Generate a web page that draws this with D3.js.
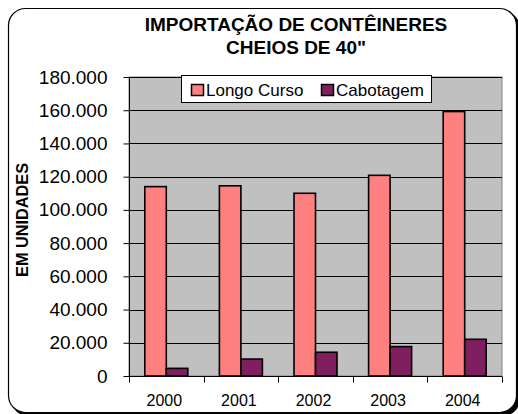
<!DOCTYPE html>
<html>
<head>
<meta charset="utf-8">
<script src="https://cdn.jsdelivr.net/npm/d3@7"></script>
<style>
  body { margin: 0; background: #fff; }
  svg text { font-family: "Liberation Sans", Arial, sans-serif; fill: #000; }
</style>
</head>
<body>
<div id="chart"></div>
<script>
/*
 * Chart data.
 */
var years = ["2000", "2001", "2002", "2003", "2004"]
  , longoCurso = [114000, 114500, 110000, 120800, 159200]
  , cabotagem = [4600, 10200, 14300, 17700, 22100]
  , seriesNames = ["Longo Curso", "Cabotagem"]
  , seriesColors = ["#ff8080", "#7f1f5f"]
  , yTicks = [0, 20000, 40000, 60000, 80000, 100000, 120000, 140000, 160000, 180000];

var width = 518
  , height = 414
  , plot = { left: 129, right: 502, top: 77, bottom: 376 };

var svg = d3.select('#chart').append('svg')
  .attr('width', width)
  .attr('height', height);

// brazilian number format: 180.000
var br = d3.formatLocale({ decimal: ",", thousands: ".", grouping: [3], currency: ["R$", ""] });
var fmt = br.format(",d");

/*
 * Chart frame, rounded with a shadow.
 */
svg.append('rect')
  .attr('x', 11).attr('y', 11)
  .attr('width', 509).attr('height', 405)
  .attr('rx', 17)
  .attr('fill', '#000');

svg.append('rect')
  .attr('x', 8.5).attr('y', 8.5)
  .attr('width', 508).attr('height', 404)
  .attr('rx', 17)
  .attr('fill', '#fff')
  .attr('stroke', '#000')
  .attr('stroke-width', 1.2);

/*
 * Scales
 */
var x = d3.scaleBand()
  .domain(years)
  .range([plot.left, plot.right]);

var xInner = d3.scaleBand()
  .domain(seriesNames)
  .range([0, x.bandwidth()])
  .paddingOuter(0.735)
  .paddingInner(0);

var y = d3.scaleLinear()
  .domain([0, 180000])
  .range([plot.bottom, plot.top]);

/*
 * Plot area and grid
 */
svg.append('rect')
  .attr('x', plot.left).attr('y', plot.top)
  .attr('width', plot.right - plot.left)
  .attr('height', plot.bottom - plot.top)
  .attr('fill', '#c0c0c0')
  .attr('stroke', '#808080')
  .attr('stroke-width', 1);

svg.append('g')
  .selectAll('line')
  .data(yTicks.slice(1))
  .enter().append('line')
  .attr('x1', plot.left).attr('x2', plot.right)
  .attr('y1', function(d) { return Math.round(y(d)) + 0.5; })
  .attr('y2', function(d) { return Math.round(y(d)) + 0.5; })
  .attr('stroke', '#000')
  .attr('stroke-width', 1);

/*
 * Bars
 */
var series = [longoCurso, cabotagem];

var groups = svg.append('g')
  .selectAll('g')
  .data(series)
  .enter().append('g')
  .attr('fill', function(d, i) { return seriesColors[i]; });

groups.selectAll('rect')
  .data(function(d, i) {
    return d.map(function(v, j) { return { year: years[j], value: v, name: seriesNames[i] }; });
  })
  .enter().append('rect')
  .attr('x', function(d) { return x(d.year) + xInner(d.name); })
  .attr('y', function(d) { return y(d.value); })
  .attr('width', xInner.bandwidth())
  .attr('height', function(d) { return y(0) - y(d.value); })
  .attr('stroke', '#000')
  .attr('stroke-width', 1.6);

/*
 * Axes
 */
var yAxis = svg.append('g')
  .attr('transform', 'translate(' + (plot.left + 0.5) + ',0)')
  .call(d3.axisLeft(y).tickValues(yTicks).tickFormat(fmt).tickSize(6).tickPadding(16));

yAxis.select('.domain').attr('stroke', '#000').attr('d', 'M0,' + plot.top + 'V' + plot.bottom);
yAxis.selectAll('text').style('font-size', '19px').attr('fill', '#000');

var xAxis = svg.append('g')
  .attr('transform', 'translate(0,' + (plot.bottom + 0.5) + ')');

xAxis.append('line')
  .attr('x1', plot.left).attr('x2', plot.right)
  .attr('stroke', '#000');

xAxis.selectAll('line.tick')
  .data(years.concat(['end']))
  .enter().append('line')
  .attr('class', 'tick')
  .attr('x1', function(d, i) { return Math.round(plot.left + i * x.step()) + 0.5; })
  .attr('x2', function(d, i) { return Math.round(plot.left + i * x.step()) + 0.5; })
  .attr('y1', 0).attr('y2', 6)
  .attr('stroke', '#000');

xAxis.selectAll('text')
  .data(years)
  .enter().append('text')
  .attr('x', function(d) { return x(d) + x.bandwidth() / 2 - 2; })
  .attr('y', 29)
  .attr('text-anchor', 'middle')
  .style('font-size', '16px')
  .text(function(d) { return d; });

// y axis title
svg.append('text')
  .attr('transform', 'translate(28,220) rotate(-90)')
  .attr('text-anchor', 'middle')
  .style('font-size', '16.3px')
  .style('font-weight', 'bold')
  .text('EM UNIDADES');

/*
 * Title
 */
var title = svg.append('text')
  .attr('text-anchor', 'middle')
  .style('font-size', '19px')
  .style('font-weight', 'bold');

title.append('tspan').attr('x', 296).attr('y', 31).text('IMPORTAÇÃO DE CONTÊINERES');
title.append('tspan').attr('x', 296).attr('y', 54).text('CHEIOS DE 40"');

/*
 * Legend
 */
var legend = svg.append('g');

legend.append('rect')
  .attr('x', 181.5).attr('y', 75.5)
  .attr('width', 250).attr('height', 27)
  .attr('fill', '#fff')
  .attr('stroke', '#000');

var legendX = [191, 321];

var item = legend.selectAll('g')
  .data(seriesNames)
  .enter().append('g')
  .attr('transform', function(d, i) { return 'translate(' + legendX[i] + ',0)'; });

item.append('rect')
  .attr('x', 0.5).attr('y', 84.5)
  .attr('width', 12).attr('height', 11)
  .attr('fill', function(d, i) { return seriesColors[i]; })
  .attr('stroke', '#000')
  .attr('stroke-width', 1.5);

item.append('text')
  .attr('x', 15)
  .attr('y', 96)
  .style('font-size', '17px')
  .text(function(d) { return d; });
</script>
</body>
</html>
